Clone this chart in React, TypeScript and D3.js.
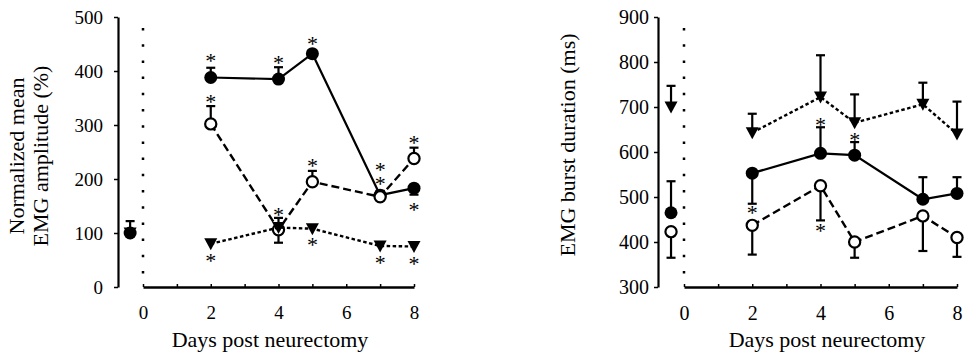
import { useRef, useEffect } from 'react';
import * as d3 from 'd3';

// days post neurectomy, pre-op baseline drawn just left of day 0
const days = [2, 4, 5, 7, 8];
const baselineDay = -0.38;

// left panel: normalized mean EMG amplitude (%)
const ampTicks = [0, 100, 200, 300, 400, 500];
const ampFilled = [388, 385, 432, 170, 183];
const ampFilledUp = [18, 22, 6, 8, 0];
const ampFilledDown = [0, 0, 0, 0, 12];
const ampOpen = [302, 106, 195, 167, 238];
const ampOpenUp = [33, 22, 20, 10, 20];
const ampOpenDown = [0, 24, 0, 0, 0];
const ampTri = [80, 110, 108, 76, 75];
// baseline [filled, open, triangle]
const ampBaseline = [100, null, 100];
const ampBaselineUp = [22, 0, 0];
const ampBaselineDown = [0, 0, 0];
const ampStars: [number, number][] = [
    [2, 424], [4, 420], [5, 455], [8, 148],
    [2, 348], [4, 139], [5, 230], [7, 223], [7, 196], [8, 272],
    [2, 54], [5, 83], [7, 50], [8, 48],
];

// right panel: EMG burst duration (ms)
const durTicks = [300, 400, 500, 600, 700, 800, 900];
const durFilled = [553, 597, 593, 495, 508];
const durFilledUp = [0, 58, 29, 49, 36];
const durFilledDown = [68, 0, 0, 0, 0];
const durOpen = [437, 525, 400, 458, 410];
const durOpenUp = [0, 0, 0, 0, 0];
const durOpenDown = [65, 77, 35, 78, 43];
const durTri = [643, 722, 665, 706, 640];
const durTriUp = [42, 93, 63, 48, 72];
const durBaseline = [465, 423, 700];
const durBaselineUp = [70, 0, 47];
const durBaselineDown = [0, 58, 0];
const durStars: [number, number][] = [
    [4, 667], [5, 633], [2, 471], [4, 431],
];

const zeros = [0, 0, 0, 0, 0];
const FONT = '"Liberation Serif", "Times New Roman", serif';

type Kind = 'filled' | 'open' | 'tri';
interface Series {
    kind: Kind;
    values: number[];
    up: number[];
    down: number[];
    base: number | null;
    baseUp: number;
    baseDown: number;
}

interface PanelCfg {
    yDomain: [number, number];
    ticks: number[];
    series: Series[];
    stars: [number, number][];
    yAxisX: number;
    x0: number;
    x8: number;
    tickPad: number;
    tickFont: number;
    yLabel: string[];
    yLabelX: number[];
    yLabelY: number;
    xLabelX: number;
}

function makeSeries(vals: number[][], base: (number | null)[], baseUp: number[], baseDown: number[]): Series[] {
    const kinds: Kind[] = ['filled', 'open', 'tri'];
    return kinds.map((kind, i) => ({
        kind,
        values: vals[i * 3],
        up: vals[i * 3 + 1],
        down: vals[i * 3 + 2],
        base: base[i],
        baseUp: baseUp[i],
        baseDown: baseDown[i],
    }));
}

const panels: PanelCfg[] = [
    {
        yDomain: [0, 500],
        ticks: ampTicks,
        series: makeSeries(
            [ampFilled, ampFilledUp, ampFilledDown, ampOpen, ampOpenUp, ampOpenDown, ampTri, zeros, zeros],
            ampBaseline, ampBaselineUp, ampBaselineDown),
        stars: ampStars,
        yAxisX: 118, x0: 143, x8: 414, tickPad: 11, tickFont: 19,
        yLabel: ['Normalized mean', 'EMG amplitude (%)'],
        yLabelX: [24, 48], yLabelY: 156, xLabelX: 270,
    },
    {
        yDomain: [300, 900],
        ticks: durTicks,
        series: makeSeries(
            [durFilled, durFilledUp, durFilledDown, durOpen, durOpenUp, durOpenDown, durTri, durTriUp, zeros],
            durBaseline, durBaselineUp, durBaselineDown),
        stars: durStars,
        yAxisX: 658, x0: 684, x8: 957, tickPad: 5, tickFont: 20,
        yLabel: ['EMG burst duration (ms)'],
        yLabelX: [575], yLabelY: 145, xLabelX: 827,
    },
];

const dashes: Record<Kind, string | null> = { filled: null, open: '8,4', tri: '3.5,2.5' };

export default function App() {
    const svgRef = useRef<SVGSVGElement | null>(null);

    useEffect(() => {
        if (!svgRef.current) return;
        const svg = d3.select(svgRef.current);
        svg.selectAll('*').remove();

        const top = 17, bottom = 287;

        panels.forEach(p => {
            const g = svg.append('g');
            const x = d3.scaleLinear().domain([0, 8]).range([p.x0, p.x8]);
            const y = d3.scaleLinear().domain(p.yDomain).range([bottom, top]);

            // y axis
            const ya = g.append('g')
                .attr('transform', `translate(${p.yAxisX},0)`)
                .call(d3.axisLeft(y).tickValues(p.ticks).tickSize(4).tickSizeOuter(0).tickPadding(p.tickPad));
            ya.select('.domain').attr('stroke-width', 2.2);
            ya.selectAll('.tick line').attr('stroke-width', 1.5);
            ya.selectAll('text').attr('font-family', FONT).attr('font-size', p.tickFont).attr('fill', '#000');

            // x axis, ticks every day pointing up
            const xa = g.append('g')
                .attr('transform', `translate(0,${bottom})`)
                .call(d3.axisBottom(x).tickValues(d3.range(0, 9)).tickSize(-3).tickSizeOuter(0).tickPadding(19)
                    .tickFormat(d => ((d as number) % 2 === 0 ? String(d) : '')));
            xa.select('.domain').attr('stroke-width', 2.5);
            xa.selectAll('.tick line').attr('stroke-width', 1.5);
            xa.selectAll('text').attr('font-family', FONT).attr('font-size', p.tickFont).attr('fill', '#000');

            // dotted line at day 0
            g.append('line')
                .attr('x1', x(0)).attr('x2', x(0))
                .attr('y1', top + 11).attr('y2', bottom)
                .attr('stroke', '#000')
                .attr('stroke-width', 2.5)
                .attr('stroke-dasharray', '2.5,13.7');

            // axis titles
            p.yLabel.forEach((t, i) => {
                g.append('text')
                    .attr('transform', `translate(${p.yLabelX[i]},${p.yLabelY}) rotate(-90)`)
                    .attr('text-anchor', 'middle')
                    .attr('font-family', FONT)
                    .attr('font-size', 22)
                    .attr('fill', '#000')
                    .text(t);
            });
            g.append('text')
                .attr('x', p.xLabelX).attr('y', 347)
                .attr('text-anchor', 'middle')
                .attr('font-family', FONT)
                .attr('font-size', 22)
                .attr('fill', '#000')
                .text('Days post neurectomy');

            p.series.forEach(s => {
                const pts = days.map((d, i) => ({ day: d, v: s.values[i], up: s.up[i], down: s.down[i] }));
                const all = s.base == null ? pts : [{ day: baselineDay, v: s.base, up: s.baseUp, down: s.baseDown }, ...pts];

                const line = d3.line<{ day: number; v: number }>()
                    .x(d => x(d.day))
                    .y(d => y(d.v));

                const path = g.append('path')
                    .datum(pts)
                    .attr('fill', 'none')
                    .attr('stroke', '#000')
                    .attr('stroke-width', s.kind === 'filled' ? 2.2 : 2.4)
                    .attr('d', line);
                if (dashes[s.kind]) path.attr('stroke-dasharray', dashes[s.kind] as string);

                // error bars
                all.forEach(d => {
                    [d.up, -d.down].forEach(e => {
                        if (!e) return;
                        const ye = y(d.v + e);
                        g.append('line')
                            .attr('x1', x(d.day)).attr('x2', x(d.day))
                            .attr('y1', y(d.v)).attr('y2', ye)
                            .attr('stroke', '#000').attr('stroke-width', 2.2);
                        g.append('line')
                            .attr('x1', x(d.day) - 4.5).attr('x2', x(d.day) + 4.5)
                            .attr('y1', ye).attr('y2', ye)
                            .attr('stroke', '#000').attr('stroke-width', 2.2);
                    });
                });

                // markers
                all.forEach(d => {
                    const cx = x(d.day), cy = y(d.v);
                    if (s.kind === 'tri') {
                        g.append('path')
                            .attr('d', `M${cx - 6.5},${cy - 5.5}L${cx + 6.5},${cy - 5.5}L${cx},${cy + 6.5}Z`)
                            .attr('fill', '#000');
                    } else {
                        g.append('circle')
                            .attr('cx', cx).attr('cy', cy)
                            .attr('r', s.kind === 'filled' ? 6.5 : 5.6)
                            .attr('fill', s.kind === 'filled' ? '#000' : '#fff')
                            .attr('stroke', '#000')
                            .attr('stroke-width', s.kind === 'filled' ? 0 : 2.2);
                    }
                });
            });

            // significance asterisks
            g.selectAll('text.star')
                .data(p.stars)
                .enter().append('text')
                .attr('class', 'star')
                .attr('x', d => x(d[0]))
                .attr('y', d => y(d[1]) + 10)
                .attr('text-anchor', 'middle')
                .attr('font-family', FONT)
                .attr('font-size', 22)
                .attr('fill', '#000')
                .text('*');
        });
    }, []);

    return (
        <svg
            ref={svgRef}
            width={964}
            height={355}
            style={{ position: 'absolute', left: 0, top: 0, background: '#fff' }}
        />
    );
}
